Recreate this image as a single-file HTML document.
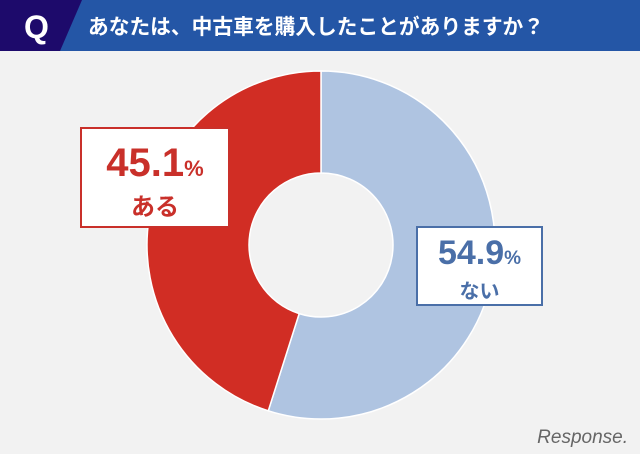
<!DOCTYPE html>
<html><head><meta charset="utf-8"><style>
body{margin:0;width:640px;height:454px;background:#f2f2f2;overflow:hidden;font-family:"Liberation Sans","Noto Sans CJK JP",sans-serif;}
.box{position:absolute;background:#fff;box-sizing:border-box;text-align:center;font-weight:bold;}
</style></head><body>
<svg width="640" height="454" style="position:absolute;left:0;top:0">
<rect x="0" y="0" width="640" height="51" fill="#2456a6"/>
<polygon points="0,0 82,0 60,51 0,51" fill="#1d0a6b"/>
<text x="24" y="38" fill="#fff" font-size="32" font-weight="bold" font-family="Liberation Sans Narrow, Liberation Sans, sans-serif">Q</text>
<text x="88" y="34" fill="#fff" font-size="21" font-weight="bold" textLength="456" lengthAdjust="spacingAndGlyphs" font-family="Liberation Sans, Noto Sans CJK JP, sans-serif">あなたは、中古車を購入したことがありますか？</text>
<g id="donut"></g>
<text x="628" y="443" text-anchor="end" fill="#666" font-size="19" font-style="italic" font-family="Liberation Sans, sans-serif">Response.</text>
</svg>
<div class="box" style="left:80px;top:127px;width:150px;height:101px;border:2px solid #c9302a;color:#c9302a">
<div style="font-size:40px;line-height:48px;margin-top:10px">45.1<span style="font-size:22px">%</span></div>
<div style="font-size:24px;line-height:30px">ある</div></div>
<div class="box" style="left:416px;top:226px;width:127px;height:80px;border:2px solid #4a6fa8;color:#4a6fa8">
<div style="font-size:34px;line-height:40px;margin-top:5px">54.9<span style="font-size:19px">%</span></div>
<div style="font-size:20px;line-height:26px">ない</div></div>
<script>
const categories=["ない","ある"];
const values=[54.9,45.1];
const colors=["#afc4e1","#d12d24"];
const cx=321,cy=245,R=174,r=72;
const g=document.getElementById('donut');
const tot=values.reduce((a,b)=>a+b,0);
let a0=0;
values.forEach((v,i)=>{
 const a1=a0+v/tot*2*Math.PI;
 const p=(a,rad)=>[cx+rad*Math.sin(a),cy-rad*Math.cos(a)];
 const [x0,y0]=p(a0,R),[x1,y1]=p(a1,R),[x2,y2]=p(a1,r),[x3,y3]=p(a0,r);
 const lg=(a1-a0)>Math.PI?1:0;
 const path=document.createElementNS('http://www.w3.org/2000/svg','path');
 path.setAttribute('d',`M${x0},${y0}A${R},${R} 0 ${lg} 1 ${x1},${y1}L${x2},${y2}A${r},${r} 0 ${lg} 0 ${x3},${y3}Z`);
 path.setAttribute('fill',colors[i]);
 path.setAttribute('stroke','#fff');
 path.setAttribute('stroke-width','1.5');
 
 
 g.appendChild(path);
 a0=a1;
});
</script>
</body></html>
